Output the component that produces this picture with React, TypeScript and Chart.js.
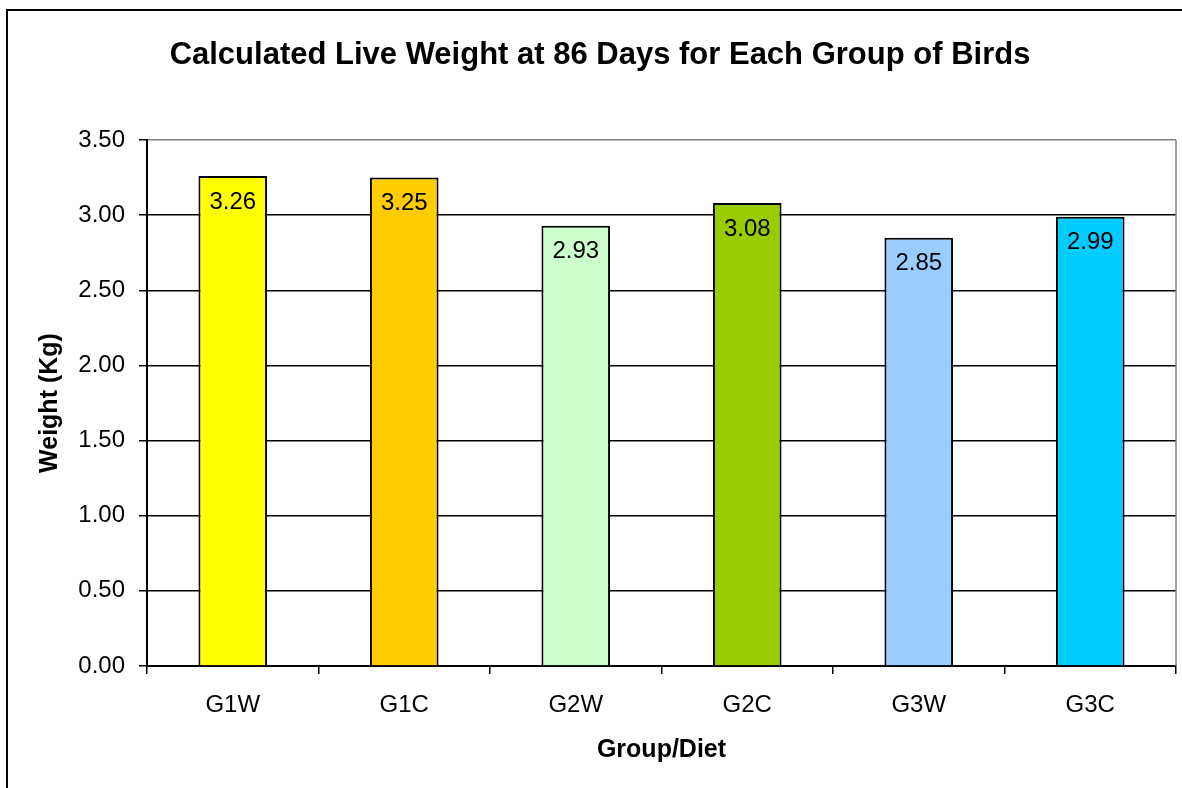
import React, { useEffect, useRef } from "react";
import { Chart, registerables } from "chart.js";

Chart.register(...registerables);

const categories = ["G1W", "G1C", "G2W", "G2C", "G3W", "G3C"];
const weights = [3.26, 3.25, 2.93, 3.08, 2.85, 2.99];
const barColors = ["#FFFF00", "#FFCC00", "#CCFFCC", "#99CC00", "#99CCFF", "#00CCFF"];
const titleText = "Calculated Live Weight at 86 Days for Each Group of Birds";
const yTitle = "Weight (Kg)";
const xTitle = "Group/Diet";

const FONT = "Arial, 'Liberation Sans', sans-serif";

const framePlugin = {
  id: "frame",
  beforeDraw(chart: any) {
    const ctx = chart.ctx;
    ctx.save();
    ctx.fillStyle = "#ffffff";
    ctx.fillRect(0, 0, chart.width, chart.height);
    ctx.strokeStyle = "#000000";
    ctx.lineWidth = 2;
    ctx.strokeRect(7, 10, chart.width + 20, chart.height + 20);
    ctx.restore();
  },
  afterDatasetsDraw(chart: any) {
    const ctx = chart.ctx;
    const { top, bottom, right } = chart.chartArea;
    ctx.save();
    ctx.strokeStyle = "#808080";
    ctx.lineWidth = 1.5;
    ctx.beginPath();
    ctx.moveTo(right, top);
    ctx.lineTo(right, bottom);
    ctx.stroke();
    const meta = chart.getDatasetMeta(0);
    ctx.fillStyle = "#000000";
    ctx.font = `24px ${FONT}`;
    ctx.textAlign = "center";
    ctx.textBaseline = "middle";
    meta.data.forEach((bar: any, i: number) => {
      ctx.fillText(weights[i].toFixed(2), bar.x, bar.y + 26);
    });
    ctx.restore();
  },
};

export default function App() {
  const ref = useRef<HTMLCanvasElement | null>(null);
  useEffect(() => {
    document.body.style.margin = "0";
    if (!ref.current) return;
    const chart = new Chart(ref.current, {
      type: "bar",
      data: {
        labels: categories,
        datasets: [
          {
            data: weights,
            backgroundColor: barColors,
            borderColor: "#000000",
            borderWidth: 2,
            barPercentage: 0.4,
            categoryPercentage: 1,
          },
        ],
      },
      options: {
        responsive: false,
        animation: false,
        devicePixelRatio: 1,
        layout: { padding: { left: 24, right: 6, top: 0, bottom: 0 } },
        plugins: {
          legend: { display: false },
          tooltip: { enabled: false },
          title: {
            display: true,
            text: titleText,
            color: "#000000",
            font: { family: FONT, size: 31, weight: "bold", lineHeight: 1.2 },
            padding: { top: 36.4, bottom: 66.4 },
          },
        },
        scales: {
          x: {
            offset: true,
            afterFit(scale: any) {
              scale.height = 122;
            },
            grid: {
              display: true,
              offset: true,
              drawOnChartArea: false,
              drawTicks: true,
              tickLength: 8,
              color: "#000000",
              lineWidth: 1.5,
            },
            border: { display: true, color: "#000000", width: 2 },
            ticks: {
              color: "#000000",
              font: { family: FONT, size: 24 },
              padding: 17,
            },
            title: {
              display: true,
              text: xTitle,
              color: "#000000",
              font: { family: FONT, size: 25, weight: "bold", lineHeight: 1.2 },
              padding: { top: 0, bottom: 23 },
            },
          },
          y: {
            min: 0,
            max: 3.5,
            afterFit(scale: any) {
              scale.width = 123;
            },
            grid: {
              color: (c: any) => (c.tick && c.tick.value === 3.5 ? "#808080" : "#000000"),
              tickColor: "#000000",
              lineWidth: 1.5,
              tickLength: 8,
            },
            border: { display: true, color: "#000000", width: 2 },
            ticks: {
              stepSize: 0.5,
              color: "#000000",
              font: { family: FONT, size: 24 },
              padding: 14,
              callback: (v: any) => Number(v).toFixed(2),
            },
            title: {
              display: true,
              text: yTitle,
              color: "#000000",
              font: { family: FONT, size: 25, weight: "bold", lineHeight: 1.2 },
              padding: { top: 11, bottom: 0 },
            },
          },
        },
      },
      plugins: [framePlugin],
    });
    return () => chart.destroy();
  }, []);
  return (
    <div style={{ position: "absolute", left: 0, top: 0, width: 1182, height: 788 }}>
      <canvas ref={ref} width={1182} height={788} style={{ width: 1182, height: 788 }} />
    </div>
  );
}
